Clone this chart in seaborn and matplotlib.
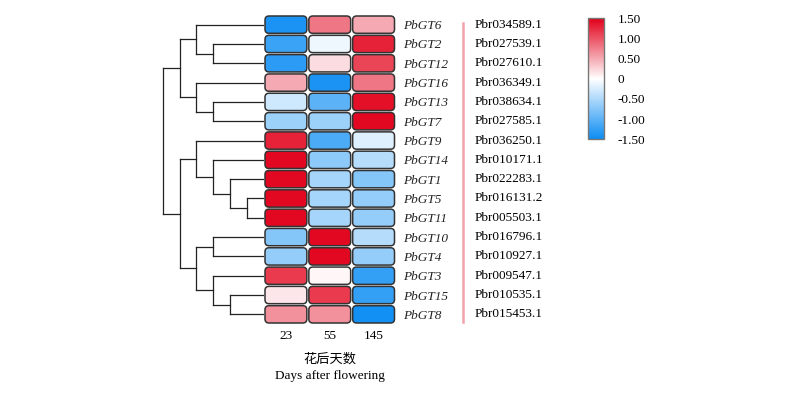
import numpy as np
import pandas as pd
import seaborn as sns
import matplotlib.pyplot as plt
from matplotlib.colors import LinearSegmentedColormap
from matplotlib.patches import FancyBboxPatch
from matplotlib.lines import Line2D
from matplotlib.transforms import blended_transform_factory

# Data ########################################################################
genes = ["PbGT6", "PbGT2", "PbGT12", "PbGT16", "PbGT13", "PbGT7", "PbGT9", "PbGT14",
         "PbGT1", "PbGT5", "PbGT11", "PbGT10", "PbGT4", "PbGT3", "PbGT15", "PbGT8"]
gene_ids = ["Pbr034589.1", "Pbr027539.1", "Pbr027610.1", "Pbr036349.1", "Pbr038634.1",
            "Pbr027585.1", "Pbr036250.1", "Pbr010171.1", "Pbr022283.1", "Pbr016131.2",
            "Pbr005503.1", "Pbr016796.1", "Pbr010927.1", "Pbr009547.1", "Pbr010535.1",
            "Pbr015453.1"]
days = ["23", "55", "145"]

d23 = [-1.40, -1.20, -1.30, 0.50, -0.30, -0.60, 1.30, 1.45,
       1.45, 1.45, 1.45, -0.75, -0.65, 1.15, 0.15, 0.65]
d55 = [0.80, -0.10, 0.20, -1.40, -1.00, -0.60, -1.10, -0.70,
       -0.55, -0.55, -0.55, 1.45, 1.45, 0.05, 1.15, 0.65]
d145 = [0.50, 1.30, 1.10, 0.80, 1.40, 1.45, -0.20, -0.45,
        -0.75, -0.65, -0.65, -0.45, -0.65, -1.25, -1.25, -1.45]

# row clustering as merges (left, right, level); leaves 0..15 in display order
merges = [(9, 10, 1), (14, 15, 2), (8, 16, 2), (1, 2, 3), (4, 5, 3), (7, 18, 3),
          (11, 12, 3), (13, 17, 3), (0, 19, 4), (3, 20, 4), (6, 21, 4), (22, 23, 4),
          (24, 25, 5), (26, 27, 5), (28, 29, 6)]

cbar_ticks = [-1.5, -1.0, -0.5, 0, 0.5, 1.0, 1.5]
cbar_labels = ["-1.50", "-1.00", "-0.50", "0", "0.50", "1.00", "1.50"]

df = pd.DataFrame({"23": d23, "55": d55, "145": d145}, index=genes)

# Style #######################################################################
plt.rcParams["font.family"] = "serif"
plt.rcParams["font.serif"] = ["Liberation Serif", "DejaVu Serif"]

W, H = 800, 393
fig = plt.figure(figsize=(8, 3.93), dpi=100)

hm_left, hm_right, hm_top, hm_bot = 264, 395.5, 15, 324
ax = fig.add_axes([hm_left / W, 1 - hm_bot / H, (hm_right - hm_left) / W, (hm_bot - hm_top) / H])
cax = fig.add_axes([588 / W, 1 - 139.3 / H, 16 / W, 121 / H])
dax = fig.add_axes([150 / W, 1 - hm_bot / H, (hm_left - 150) / W, (hm_bot - hm_top) / H])

cmap = LinearSegmentedColormap.from_list("bwr2", ["#0b8cf3", "#ffffff", "#e2001a"])

sns.heatmap(df, ax=ax, cmap=cmap, vmin=-1.5, vmax=1.5, cbar_ax=cax,
            xticklabels=days, yticklabels=genes)

# rounded cells coloured from the heatmap's own scale
mesh = ax.collections[0]
cell_cols = mesh.cmap(mesh.norm(df.values))
mesh.set_visible(False)
xu = (hm_right - hm_left) / 3   # px per column
yu = (hm_bot - hm_top) / 16     # px per row
ix, iy = 1.0 / xu, 1.0 / yu
for r in range(df.shape[0]):
    for c in range(df.shape[1]):
        box = FancyBboxPatch((c + ix, r + iy), 1 - 2 * ix, 1 - 2 * iy,
                             boxstyle="round,pad=0,rounding_size=%f" % (4.0 / xu),
                             mutation_aspect=xu / yu,
                             facecolor=cell_cols[r, c], edgecolor="#333333", lw=1.1,
                             clip_on=False)
        ax.add_patch(box)

ax.yaxis.tick_right()
ax.tick_params(axis="both", length=0)
ax.tick_params(axis="y", pad=5.5)
ax.tick_params(axis="x", pad=4)
ax.set_yticklabels(genes, rotation=0, fontstyle="italic", fontsize=9.5, color="#222222")
ax.set_xticklabels(days, rotation=0, fontsize=9.5)
ax.set_xlabel("")
ax.set_ylabel("")

# gene ids
tr = blended_transform_factory(fig.transFigure, ax.transData)
for i, gid in enumerate(gene_ids):
    ax.text(475 / W, i + 0.5, gid, transform=tr, va="center", ha="left", fontsize=9.5)

fig.add_artist(Line2D([462.7 / W] * 2, [1 - 23 / H, 1 - 322 / H], color="#f2a2aa", lw=1.8))

# x labels
fig.text(330 / W, 1 - 359 / H, "花后天数", ha="center", va="center", fontsize=9.5,
         family=["Noto Sans CJK SC", "DejaVu Sans"])
fig.text(330 / W, 1 - 376 / H, "Days after flowering", ha="center", va="center", fontsize=9.5)

# colorbar
cbar = mesh.colorbar
cbar.set_ticks(cbar_ticks)
cbar.set_ticklabels(cbar_labels)
cax.tick_params(length=0, pad=10, labelsize=9.5)
cbar.outline.set_edgecolor("#777777")
cbar.outline.set_linewidth(1)

# dendrogram
n = len(genes)
pos = {i: i + 0.5 for i in range(n)}
hgt = {i: 0 for i in range(n)}
for k, (a, b, lev) in enumerate(merges):
    dax.plot([hgt[a], lev], [pos[a], pos[a]], color="#222222", lw=0.9)
    dax.plot([hgt[b], lev], [pos[b], pos[b]], color="#222222", lw=0.9)
    dax.plot([lev, lev], [pos[a], pos[b]], color="#222222", lw=0.9)
    pos[n + k] = (pos[a] + pos[b]) / 2
    hgt[n + k] = lev
dax.set_xlim((hm_left - 150) / 16.9, 0)
dax.set_ylim(n, 0)
dax.axis("off")

fig.savefig("out.png", dpi=100)
